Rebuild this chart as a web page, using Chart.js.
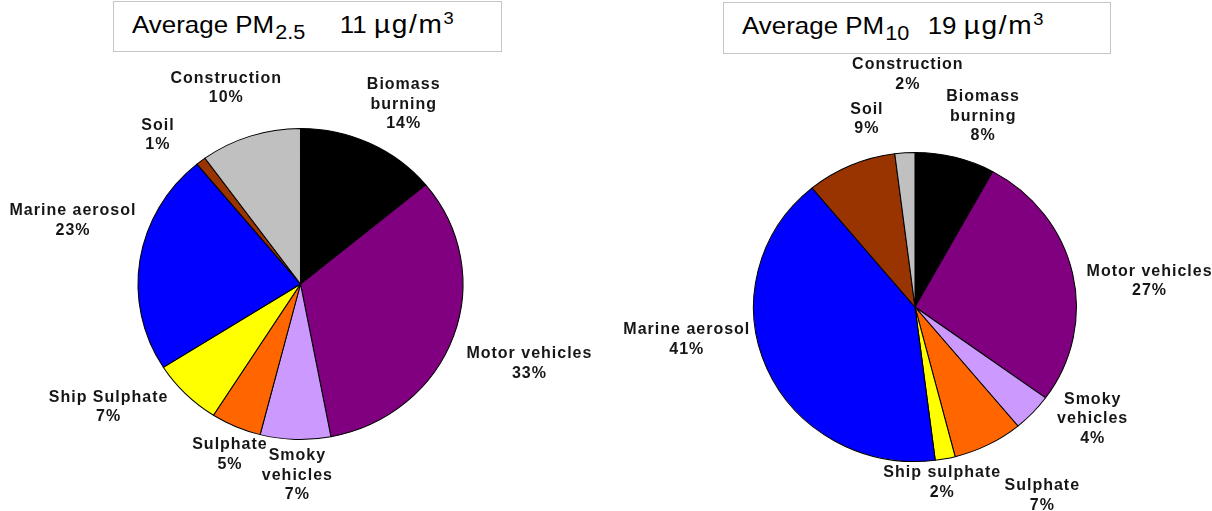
<!DOCTYPE html>
<html>
<head>
<meta charset="utf-8">
<script src="https://cdn.jsdelivr.net/npm/chart.js@4.4.0/dist/chart.umd.min.js"></script>
<style>
  html, body { margin: 0; padding: 0; background: #fff; }
  #wrap { position: relative; width: 1212px; height: 511px; overflow: hidden; }
  canvas { position: absolute; left: 0; top: 0; }
  .title {
    position: absolute; box-sizing: border-box;
    border: 1px solid #c6c6c6; background: #fff;
    font-family: "Liberation Sans", Arial, sans-serif; font-size: 24px; color: #000;
    white-space: nowrap;
  }
  .title span.t { position: absolute; left: 18px; top: 7px; transform: scaleX(1.08); transform-origin: 0 0; }
  .title sub { font-size: 20px; vertical-align: -6px; line-height: 0; margin-left: 1px; }
  .title sup { font-size: 17px; vertical-align: 9px; line-height: 0; }
  .title .gap { display: inline-block; }
  .title .unit { font-size: 26px; letter-spacing: 1.5px; }
  .title .unit sup { letter-spacing: 0; }
</style>
</head>
<body>
<div id="wrap">
  <canvas id="pm25" width="1212" height="511"></canvas>
  <canvas id="pm10" width="1212" height="511"></canvas>
  <div class="title" style="left:113px;top:1px;width:389px;height:51px;"><span class="t">Average PM<sub>2.5</sub><span class="gap" style="width:32px"></span>11 <span class="unit">µg/m<sup>3</sup></span></span></div>
  <div class="title" style="left:723px;top:2px;width:388px;height:52px;"><span class="t">Average PM<sub>10</sub><span class="gap" style="width:17px"></span>19 <span class="unit">µg/m<sup>3</sup></span></span></div>
</div>
<script>
// Source categories, clockwise from 12 o'clock
const pm25Sources = ["Biomass\nburning", "Motor vehicles", "Smoky\nvehicles", "Sulphate", "Ship Sulphate", "Marine aerosol", "Soil", "Construction"];
const pm25Share = [14, 33, 7, 5, 7, 23, 1, 10];

const pm10Sources = ["Biomass\nburning", "Motor vehicles", "Smoky\nvehicles", "Sulphate", "Ship sulphate", "Marine aerosol", "Soil", "Construction"];
const pm10Share = [8, 27, 4, 7, 2, 41, 9, 2];

const sourceColors = ["#000000", "#800080", "#CC99FF", "#FF6600", "#FFFF00", "#0000FF", "#993300", "#C0C0C0"];

// Label block offsets from the outer midpoint of each slice
const pm25LabelOffset = [[34, -39], [76, 27], [2, 36], [-6, 28], [-77, 13], [-67, -39], [-43, -26], [-24, -48]];
const pm10LabelOffset = [[28, -41], [77, 8], [60, 6], [54, 51], [-3, 24], [-80, -29], [16, -46], [3, -78]];

// Pies are drawn slightly wider than tall
const PIE_STRETCH_X = 1.045;

const ovalPie = {
  id: 'ovalPie',
  beforeDatasetsDraw(chart) {
    const a = chart.chartArea;
    const cx = (a.left + a.right) / 2;
    const ctx = chart.ctx;
    ctx.save();
    ctx.translate(cx, 0);
    ctx.scale(PIE_STRETCH_X, 1);
    ctx.translate(-cx, 0);
  },
  afterDatasetsDraw(chart) {
    chart.ctx.restore();
  }
};

const sliceLabels = {
  id: 'sliceLabels',
  afterDatasetsDraw(chart, args, opts) {
    const ctx = chart.ctx;
    const meta = chart.getDatasetMeta(0);
    const data = chart.data.datasets[0].data;
    ctx.save();
    ctx.font = 'bold 16px "Liberation Sans", Arial, sans-serif';
    if ('letterSpacing' in ctx) ctx.letterSpacing = '1px';
    ctx.fillStyle = '#161616';
    ctx.textAlign = 'center';
    ctx.textBaseline = 'middle';
    meta.data.forEach((arc, i) => {
      const p = arc.getProps(['x', 'y', 'startAngle', 'endAngle', 'outerRadius'], true);
      const mid = (p.startAngle + p.endAngle) / 2;
      const ex = p.x + PIE_STRETCH_X * p.outerRadius * Math.cos(mid);
      const ey = p.y + p.outerRadius * Math.sin(mid);
      const off = opts.offsets[i];
      const lines = chart.data.labels[i].split('\n').concat([data[i] + '%']);
      const lh = 19.5;
      const cx = ex + off[0];
      const cy = ey + off[1];
      lines.forEach((t, k) => {
        ctx.fillText(t, cx, cy + (k - (lines.length - 1) / 2) * lh);
      });
    });
    ctx.restore();
  }
};

function makePie(id, labels, values, offsets, padding) {
  return new Chart(document.getElementById(id), {
    type: 'pie',
    data: {
      labels: labels,
      datasets: [{
        data: values,
        backgroundColor: sourceColors,
        borderColor: '#000000',
        borderWidth: 1
      }]
    },
    options: {
      responsive: false,
      animation: false,
      layout: { padding: padding },
      plugins: {
        legend: { display: false },
        tooltip: { enabled: false },
        sliceLabels: { offsets: offsets }
      }
    },
    plugins: [ovalPie, sliceLabels]
  });
}

makePie('pm25', pm25Sources, pm25Share, pm25LabelOffset, { left: 144.5, right: 755.5, top: 128, bottom: 71 });
makePie('pm10', pm10Sources, pm10Share, pm10LabelOffset, { left: 760, right: 142, top: 152, bottom: 49 });
</script>
</body>
</html>
